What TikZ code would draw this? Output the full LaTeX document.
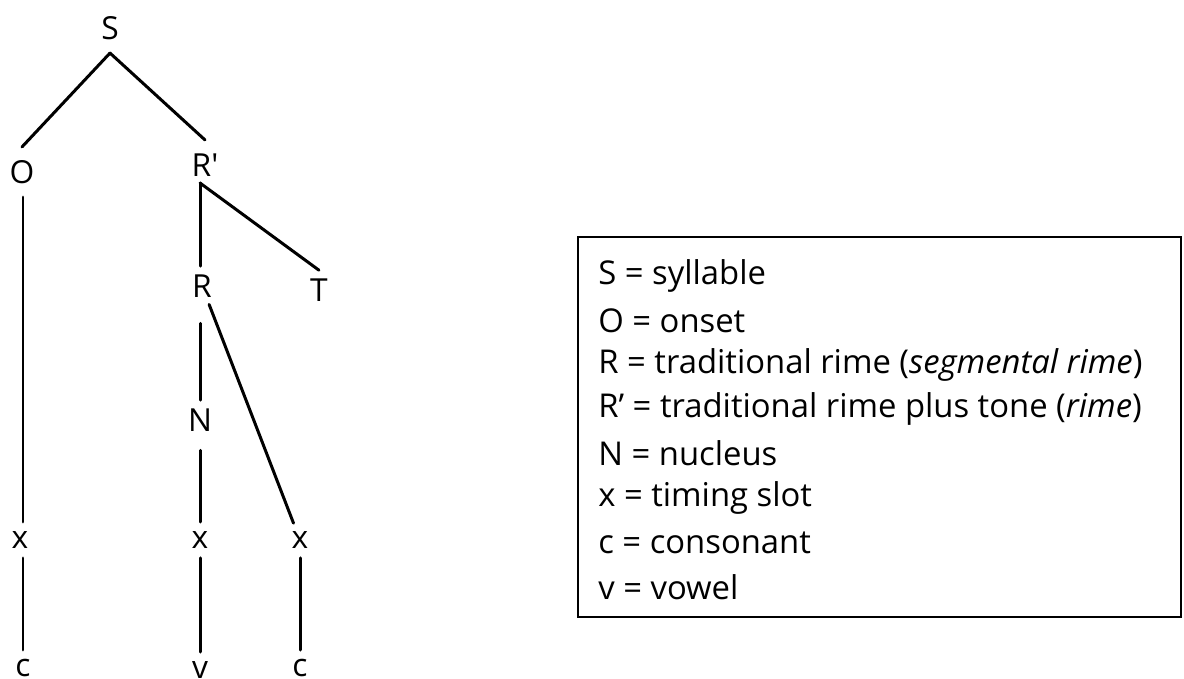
\documentclass[tikz,border=0pt]{standalone}
\usepackage{fontspec}
\setmainfont{Open Sans}
\begin{document}
\begin{tikzpicture}[x=0.5669pt, y=-0.5669pt,
  every node/.style={font=\fontsize{18pt}{21pt}\selectfont, inner sep=0pt},
  upper/.style={circle, minimum size=28pt},
  lower/.style={circle, minimum size=20pt},
  branch/.style={line width=1.7pt, line cap=round},
  frame/.style={line width=1.1pt},
  keytext/.style={anchor=west, font=\fontsize{18.6pt}{22pt}\selectfont}]
\useasboundingbox (0,0) rectangle (1184,679);

% syllable tree
\node[upper] (S)  at (110,28)  {S};
\node[upper] (O)  at (22,172)  {O};
\node[upper] (Rp) at (205,165) {R\textquotesingle};
\node[lower, minimum size=22pt] (R)  at (202,286) {R};
\node[lower, minimum size=22pt] (T)  at (319,290) {T};
\node[lower, minimum size=22pt] (N)  at (200,420) {N};
\node[lower] (x1) at (20,540)  {x};
\node[lower] (x2) at (200,540) {x};
\node[lower] (x3) at (300,540) {x};
\node[lower] (c1) at (23,668)  {c};
\node[lower] (v)  at (200,670) {v};
\node[lower] (c2) at (300,668) {c};
\coordinate (Rfoot) at (200,183);

\draw[branch] (S.south) -- (O.north);
\draw[branch] (S.south) -- (Rp.north);
\draw[branch] (O.south -| c1) -- (x1.north -| c1);
\draw[branch] (x1.south -| c1) -- (c1.north);
\draw[branch] (Rfoot) -- (R.north -| Rfoot);
\draw[branch] (Rfoot) -- (T.north);
\draw[branch, shorten <=10pt] (R.south -| N) -- (N.north);
\draw[branch] (R) -- (x3);
\draw[branch, shorten <=6pt] (N.south) -- (x2.north);
\draw[branch] (x2.south) -- (v.north);
\draw[branch] (x3.south) -- (c2.north);

% legend
\draw[frame] (578,237) rectangle (1181,617);
\foreach \t [count=\i from 0] in {%
  S = syllable,
  O = onset,
  R = traditional rime (\textit{segmental rime}),
  R’ = traditional rime plus tone (\textit{rime}),
  N = nucleus,
  x = timing slot,
  c = consonant,
  v = vowel}
  \node[keytext] (key\i) at (598, 276+44.4*\i) {\t};
\end{tikzpicture}
\end{document}
